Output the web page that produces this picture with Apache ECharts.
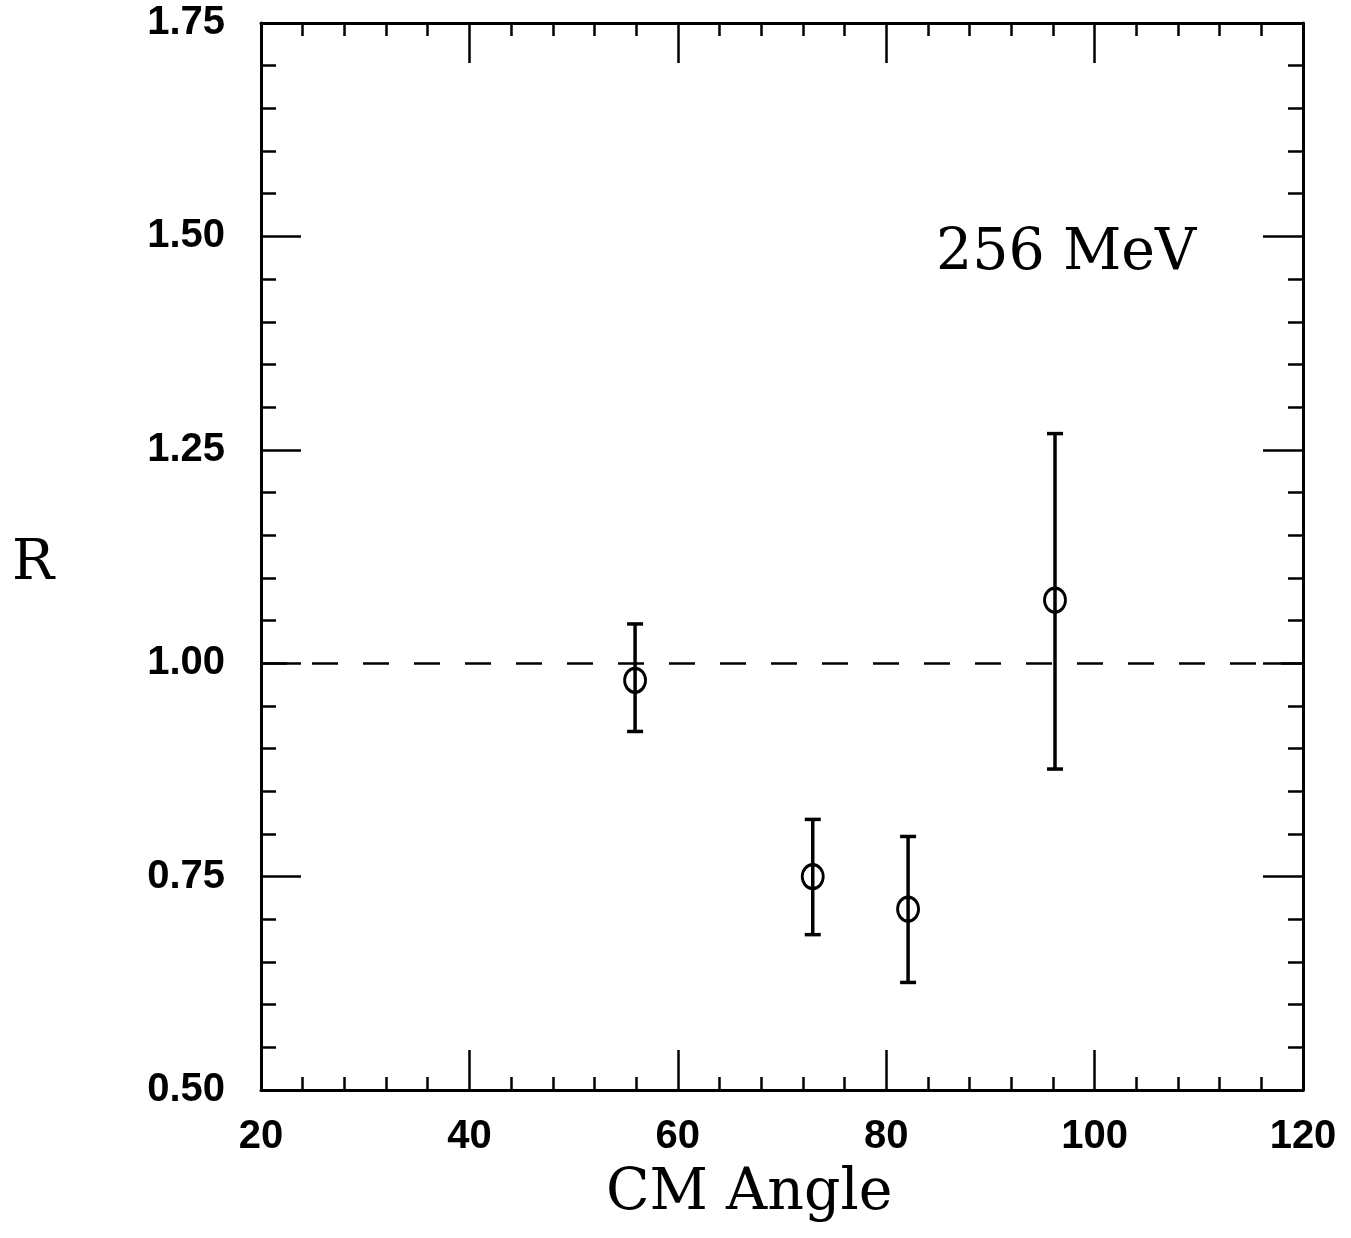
<!DOCTYPE html>
<html>
<head>
    <meta charset="utf-8">
    <title>R vs CM Angle</title>
    <script src="https://cdn.jsdelivr.net/npm/echarts@6/dist/echarts.min.js"></script>
</head>
<body>

<style>
    html, body, #main {
        width: 100%;
        padding: 0;
        margin: 0;
        height: 100%;
        background: #fff;
    }
</style>

<div id="main"></div>

<script type="text/javascript">

// data
var angles  = [55.9, 72.95, 82.1, 96.2];
var rValues = [0.980, 0.750, 0.712, 1.074];
var errLow  = [0.920, 0.682, 0.626, 0.876];
var errHigh = [1.046, 0.817, 0.797, 1.269];
var refLine = 1.0;

var xTicks = [20, 40, 60, 80, 100, 120];
var yTicks = [0.50, 0.75, 1.00, 1.25, 1.50, 1.75];

var pts = angles.map(function (a, i) { return [a, rValues[i]]; });
var bars = angles.map(function (a, i) { return [a, errLow[i], errHigh[i]]; });

var myChart = echarts.init(document.getElementById('main'));

var tickLine = { color: '#000', width: 2.5 };

function xAx(pos, showLabel) {
    return {
        type: 'value',
        position: pos,
        min: xTicks[0],
        max: xTicks[xTicks.length - 1],
        interval: 20,
        axisLine: { show: true, onZero: false, lineStyle: { color: '#000', width: 3 } },
        axisTick: { show: true, inside: true, length: 40, lineStyle: tickLine },
        minorTick: { show: true, splitNumber: 5, length: 13, lineStyle: tickLine },
        axisLabel: {
            show: showLabel, margin: 27, color: '#000',
            fontSize: 40, fontWeight: 'bold', fontFamily: 'Liberation Sans'
        },
        splitLine: { show: false }
    };
}

function yAx(pos, showLabel) {
    return {
        type: 'value',
        position: pos,
        min: yTicks[0],
        max: yTicks[yTicks.length - 1],
        interval: 0.25,
        axisLine: { show: true, onZero: false, lineStyle: { color: '#000', width: 3 } },
        axisTick: { show: true, inside: true, length: 40, lineStyle: tickLine },
        minorTick: { show: true, splitNumber: 5, length: 15, lineStyle: tickLine },
        axisLabel: {
            show: showLabel, margin: 36, color: '#000',
            fontSize: 40, fontWeight: 'bold', fontFamily: 'Liberation Sans',
            formatter: function (v) { return v.toFixed(2); }
        },
        splitLine: { show: false }
    };
}

var option = {
    animation: false,
    backgroundColor: '#fff',
    grid: { left: 261, right: 48, top: 23, bottom: 148 },
    xAxis: [xAx('bottom', true), xAx('top', false)],
    yAxis: [yAx('left', true), yAx('right', false)],
    graphic: [
        {
            type: 'text', left: 936, top: 226,
            style: { text: '256 MeV', fontSize: 57, fontFamily: 'DejaVu Serif', fill: '#000' }
        },
        {
            type: 'text', left: 606, top: 1166,
            style: { text: 'CM Angle', fontSize: 57, fontFamily: 'DejaVu Serif', fill: '#000' }
        },
        {
            type: 'text', left: 12, top: 536,
            style: { text: 'R', fontSize: 56, fontFamily: 'DejaVu Serif', fill: '#000' }
        }
    ],
    series: [
        {
            type: 'custom',
            data: bars,
            z: 3,
            renderItem: function (params, api) {
                var x = api.value(0);
                var lo = api.coord([x, api.value(1)]);
                var hi = api.coord([x, api.value(2)]);
                var cap = 8;
                var st = { stroke: '#000', lineWidth: 3.5 };
                return {
                    type: 'group',
                    children: [
                        { type: 'line', shape: { x1: lo[0], y1: lo[1], x2: hi[0], y2: hi[1] }, style: st },
                        { type: 'line', shape: { x1: lo[0] - cap, y1: lo[1], x2: lo[0] + cap, y2: lo[1] }, style: st },
                        { type: 'line', shape: { x1: hi[0] - cap, y1: hi[1], x2: hi[0] + cap, y2: hi[1] }, style: st }
                    ]
                };
            }
        },
        {
            type: 'scatter',
            data: pts,
            symbol: 'circle',
            symbolSize: [21, 24],
            z: 4,
            itemStyle: { color: 'rgba(0,0,0,0)', borderColor: '#000', borderWidth: 3, opacity: 1 },
            markLine: {
                silent: true,
                symbol: 'none',
                label: { show: false },
                lineStyle: { color: '#000', width: 2.5, type: [26, 25], opacity: 1 },
                data: [{ yAxis: refLine }]
            }
        }
    ]
};

myChart.setOption(option);

window.onresize = function () {
    myChart.resize();
};

</script>

</body>
</html>
